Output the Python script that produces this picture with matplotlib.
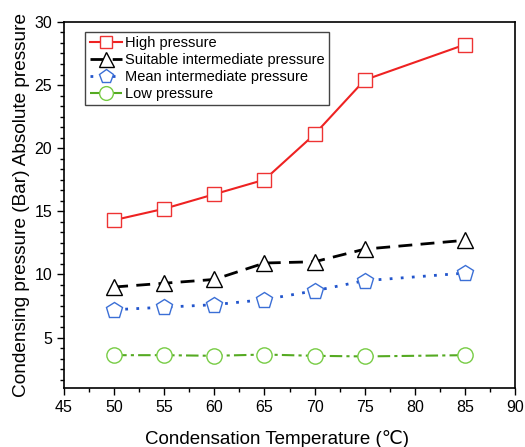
import matplotlib
matplotlib.use("Agg")
import matplotlib.pyplot as plt
from matplotlib.ticker import AutoMinorLocator, MultipleLocator

plt.rcParams["font.family"] = ["Liberation Sans", "DejaVu Sans"]

temps = [50, 55, 60, 65, 70, 75, 85]
high = [14.3, 15.2, 16.35, 17.5, 21.1, 25.4, 28.2]
suitable = [9.0, 9.3, 9.6, 10.9, 11.0, 12.0, 12.7]
mean = [7.2, 7.4, 7.6, 8.0, 8.7, 9.5, 10.1]
low = [3.6, 3.6, 3.55, 3.65, 3.55, 3.5, 3.6]

fig = plt.figure(figsize=(5.25, 4.47), dpi=100)
ax = fig.add_axes([0.122, 0.132, 0.859, 0.819])

ax.plot(temps, high, "-", color="#ee2222", lw=1.5, marker="s", ms=9.5,
        mfc="white", mec="#ee3333", mew=1.0, label="High pressure")
ax.plot(temps, suitable, color="black", lw=2, ls=(0, (5, 3)), marker="^", ms=12,
        mfc="white", mec="black", mew=1.0, label="Suitable intermediate pressure")
ax.plot(temps, mean, color="#2255cc", lw=2, ls=(0, (1, 3)), marker="p", ms=12,
        mfc="white", mec="#3b6fd6", mew=1.0, label="Mean intermediate pressure")
ax.plot(temps, low, color="#55aa22", lw=1.5, ls=(0, (6, 2, 1.5, 2)), marker="o", ms=11,
        mfc="white", mec="#77cc44", mew=1.0, label="Low pressure")

ax.set_xlim(45, 90)
ax.set_ylim(1, 30)
ax.xaxis.set_major_locator(MultipleLocator(5))
ax.xaxis.set_minor_locator(AutoMinorLocator(2))
ax.yaxis.set_major_locator(MultipleLocator(5))
ax.yaxis.set_minor_locator(AutoMinorLocator(6))
ax.yaxis.set_major_formatter(plt.FuncFormatter(lambda v, p: f"{v:g}" if v >= 5 else ""))
ax.tick_params(which="both", direction="out", top=False, right=False, labelsize=11.5)
ax.tick_params(which="major", length=5, width=1)
ax.tick_params(which="minor", length=3, width=1)
for s in ax.spines.values():
    s.set_linewidth(1.2)

ax.set_xlabel("Condensation Temperature (℃)", fontsize=13.5)
ax.xaxis.set_label_coords(0.472, -0.115)
ax.set_ylabel("Condensing pressure (Bar) Absolute pressure", fontsize=13.7, labelpad=3)

leg = ax.legend(loc="upper left", bbox_to_anchor=(0.047, 0.973), fontsize=10.5,
                fancybox=False, edgecolor="#444444", framealpha=1,
                handlelength=2.2, handletextpad=0.25, borderpad=0.3,
                labelspacing=0.2, borderaxespad=0.0, markerscale=0.9)
leg.get_frame().set_linewidth(1.0)

fig.savefig("out.png", dpi=100)
